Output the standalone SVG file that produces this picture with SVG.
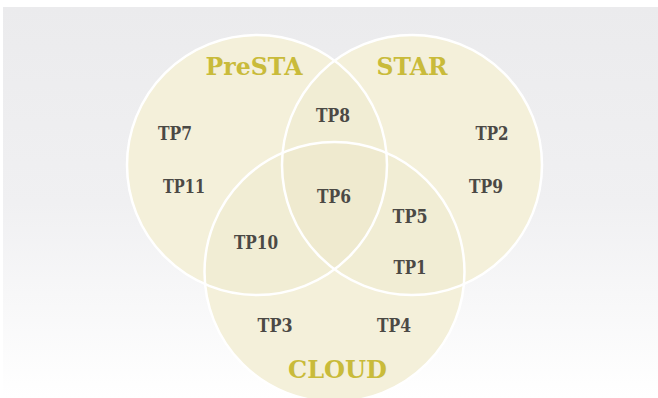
<svg xmlns="http://www.w3.org/2000/svg" width="658" height="398" viewBox="0 0 658 398">
  <defs>
    <linearGradient id="bg" x1="0" y1="0" x2="0" y2="1">
      <stop offset="0" stop-color="#ebebed"/>
      <stop offset="0.5" stop-color="#f0f0f2"/>
      <stop offset="1" stop-color="#ffffff"/>
    </linearGradient>
  </defs>
  <style>
    .base { fill: #f7f4e0; }
    .tint { fill: #d8cc8a; fill-opacity: 0.07; }
    .ring { fill: none; stroke: #ffffff; stroke-width: 2.5; }
    .title { font-family: "DejaVu Serif", "Liberation Serif", serif; font-weight: bold; font-size: 25px; fill: #c9bb3a; text-anchor: middle; }
    .tp { font-family: "DejaVu Serif", "Liberation Serif", serif; font-weight: bold; font-size: 18px; fill: #4b4945; text-anchor: middle; }
  </style>
  <rect x="0" y="0" width="658" height="398" fill="#ffffff"/>
  <rect x="3" y="7" width="655" height="391" fill="url(#bg)"/>

  <g id="circles">
    <circle class="base" cx="257" cy="165" r="130"/>
    <circle class="base" cx="412" cy="165" r="130"/>
    <circle class="base" cx="334.5" cy="272" r="130"/>
    <circle class="tint" cx="257" cy="165" r="130"/>
    <circle class="tint" cx="412" cy="165" r="130"/>
    <circle class="tint" cx="334.5" cy="272" r="130"/>
    <circle class="ring" cx="257" cy="165" r="130"/>
    <circle class="ring" cx="412" cy="165" r="130"/>
    <circle class="ring" cx="334.5" cy="272" r="130"/>
  </g>

  <g id="set-presta"><text class="title" x="254" y="75" textLength="97" lengthAdjust="spacingAndGlyphs">PreSTA</text></g>
  <g id="set-star"><text class="title" x="412" y="75" textLength="71" lengthAdjust="spacingAndGlyphs">STAR</text></g>
  <g id="set-cloud"><text class="title" x="337.5" y="378" textLength="99" lengthAdjust="spacingAndGlyphs">CLOUD</text></g>

  <g id="tp7"><text class="tp" x="175" y="140" textLength="34" lengthAdjust="spacingAndGlyphs">TP7</text></g>
  <g id="tp11"><text class="tp" x="184" y="193" textLength="42" lengthAdjust="spacingAndGlyphs">TP11</text></g>
  <g id="tp8"><text class="tp" x="333" y="122" textLength="34" lengthAdjust="spacingAndGlyphs">TP8</text></g>
  <g id="tp2"><text class="tp" x="492" y="140" textLength="33" lengthAdjust="spacingAndGlyphs">TP2</text></g>
  <g id="tp9"><text class="tp" x="486" y="193" textLength="34" lengthAdjust="spacingAndGlyphs">TP9</text></g>
  <g id="tp6"><text class="tp" x="334" y="203" textLength="34" lengthAdjust="spacingAndGlyphs">TP6</text></g>
  <g id="tp5"><text class="tp" x="410" y="223" textLength="35" lengthAdjust="spacingAndGlyphs">TP5</text></g>
  <g id="tp10"><text class="tp" x="256" y="249" textLength="44" lengthAdjust="spacingAndGlyphs">TP10</text></g>
  <g id="tp1"><text class="tp" x="410" y="274" textLength="33" lengthAdjust="spacingAndGlyphs">TP1</text></g>
  <g id="tp3"><text class="tp" x="275" y="332" textLength="35" lengthAdjust="spacingAndGlyphs">TP3</text></g>
  <g id="tp4"><text class="tp" x="394" y="332" textLength="34" lengthAdjust="spacingAndGlyphs">TP4</text></g>

  <g id="connectors"></g>
</svg>
